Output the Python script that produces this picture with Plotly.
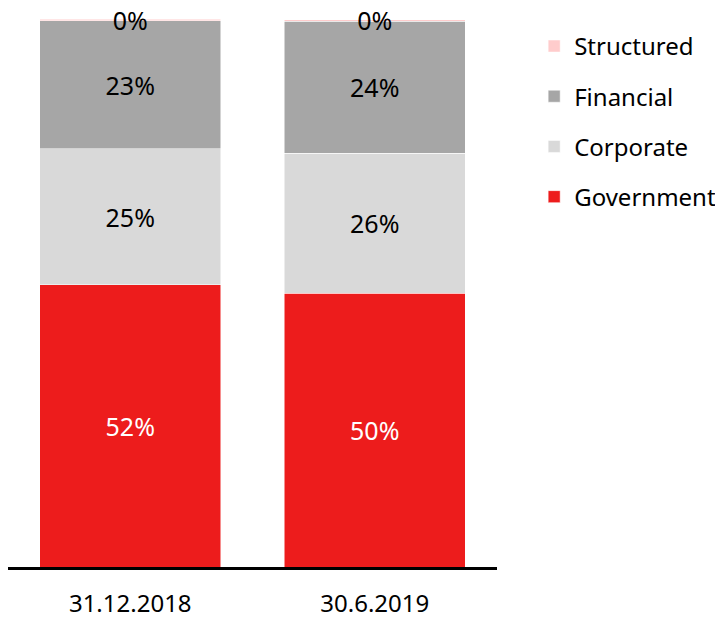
import plotly.graph_objects as go

# categories and shares (%)
categories = ["31.12.2018", "30.6.2019"]
government = [51.5, 50.0]
corporate = [24.8, 25.5]
financial = [23.4, 24.1]
structured = [0.3, 0.3]

# labels as printed on the bars
government_labels = ["52%", "50%"]
corporate_labels = ["25%", "26%"]
financial_labels = ["23%", "24%"]
structured_labels = ["0%", "0%"]

series = [
    ("Government", government, government_labels, "#ED1C1C", "white", 4),
    ("Corporate", corporate, corporate_labels, "#D9D9D9", "black", 3),
    ("Financial", financial, financial_labels, "#A6A6A6", "black", 2),
    ("Structured", structured, structured_labels, "#FFCCCC", "black", 1),
]

fig = go.Figure()

for name, values, labels, color, text_color, rank in series:
    fig.add_trace(
        go.Bar(
            x=categories,
            y=values,
            name=name,
            text=labels,
            textposition="inside",
            insidetextanchor="middle",
            insidetextfont=dict(color=text_color, size=25),
            marker=dict(color=color, line=dict(color="white", width=0.5)),
            cliponaxis=False,
            legendgroup=name,
            legendrank=rank,
            hoverinfo="skip",
        )
    )

# layout (page body adds an 8px margin, so the figure is 8px smaller)
fig.update_layout(
    width=715,
    height=609,
    barmode="stack",
    bargap=0.26,
    plot_bgcolor="white",
    paper_bgcolor="white",
    font=dict(family="Noto Sans", size=24, color="black"),
    margin=dict(l=0, r=226, t=11, b=50, autoexpand=False),
    uniformtext=dict(minsize=25, mode="show"),
    xaxis=dict(
        showline=True,
        linecolor="black",
        linewidth=3,
        ticks="",
        ticklabelstandoff=13,
        tickfont=dict(size=24),
        automargin=False,
    ),
    yaxis=dict(visible=False, range=[0, 100], automargin=False),
    legend=dict(
        x=1.076,
        y=0.991,
        xanchor="left",
        yanchor="top",
        traceorder="grouped",
        tracegroupgap=16,
        font=dict(size=24),
    ),
)

fig.write_html("out.html")
